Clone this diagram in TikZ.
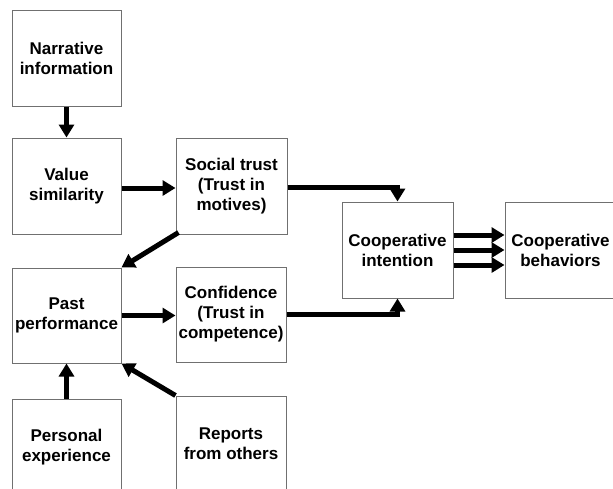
\documentclass[tikz,border=0pt]{standalone}
\usepackage{fontspec}
\setmainfont{Liberation Sans}
\usetikzlibrary{arrows.meta}
\definecolor{boxgray}{HTML}{707070}
\tikzset{
  box/.style={draw=boxgray, line width=1pt, fill=white, inner sep=0pt, align=center,
    font=\fontsize{17}{20}\selectfont\bfseries},
  conn/.style={line width=5pt, -{Triangle[length=13pt,width=15pt]}}
}
\begin{document}
\begin{tikzpicture}[x=1pt,y=-1pt]
\useasboundingbox (0,0) rectangle (613,488);
\clip (0,0) rectangle (613,488);
\node[box, minimum width=109pt, minimum height=96pt] (nar) at (66.5,58) {Narrative\\information};
\node[box, minimum width=109pt, minimum height=96pt] (val) at (66.5,186) {Value\\similarity};
\node[box, minimum width=111pt, minimum height=96pt] (soc) at (231.5,186) {Social trust\\(Trust in\\motives)};
\node[box, minimum width=109pt, minimum height=95pt] (past) at (66.5,315.5) {Past\\performance};
\node[box, minimum width=110pt, minimum height=95pt] (conf) at (231,314.5) {Confidence\\(Trust in\\competence)};
\node[box, minimum width=109pt, minimum height=96pt] (pers) at (66.5,447) {Personal\\experience};
\node[box, minimum width=110pt, minimum height=96pt] (rep) at (231,444) {Reports\\from others};
\node[box, minimum width=111pt, minimum height=96pt] (int) at (397.5,250) {Cooperative\\intention};
\node[box, minimum width=111pt, minimum height=96pt] (beh) at (560.5,250) {Cooperative\\behaviors};

\draw[conn] (nar.south) -- (val.north);
\draw[conn] ([yshift=-2pt]val.east) -- ([yshift=-2pt]soc.west);
\draw[conn] ([yshift=-1pt]soc.east) -| (int.north);
\draw[conn] ([xshift=3pt,yshift=2pt]soc.south west) -- (past.north east);
\draw[conn] (past.east) -- (past.east -| conf.west);
\draw[conn] (conf.east) -| (int.south);
\draw[conn] (pers.north) -- (past.south);
\draw[conn] (rep.north west) -- (past.south east);
\draw[conn] ([yshift=15pt]int.east) -- ([yshift=15pt]beh.west);
\draw[conn] (int.east) -- (beh.west);
\draw[conn] ([yshift=-15pt]int.east) -- ([yshift=-15pt]beh.west);
\end{tikzpicture}
\end{document}
